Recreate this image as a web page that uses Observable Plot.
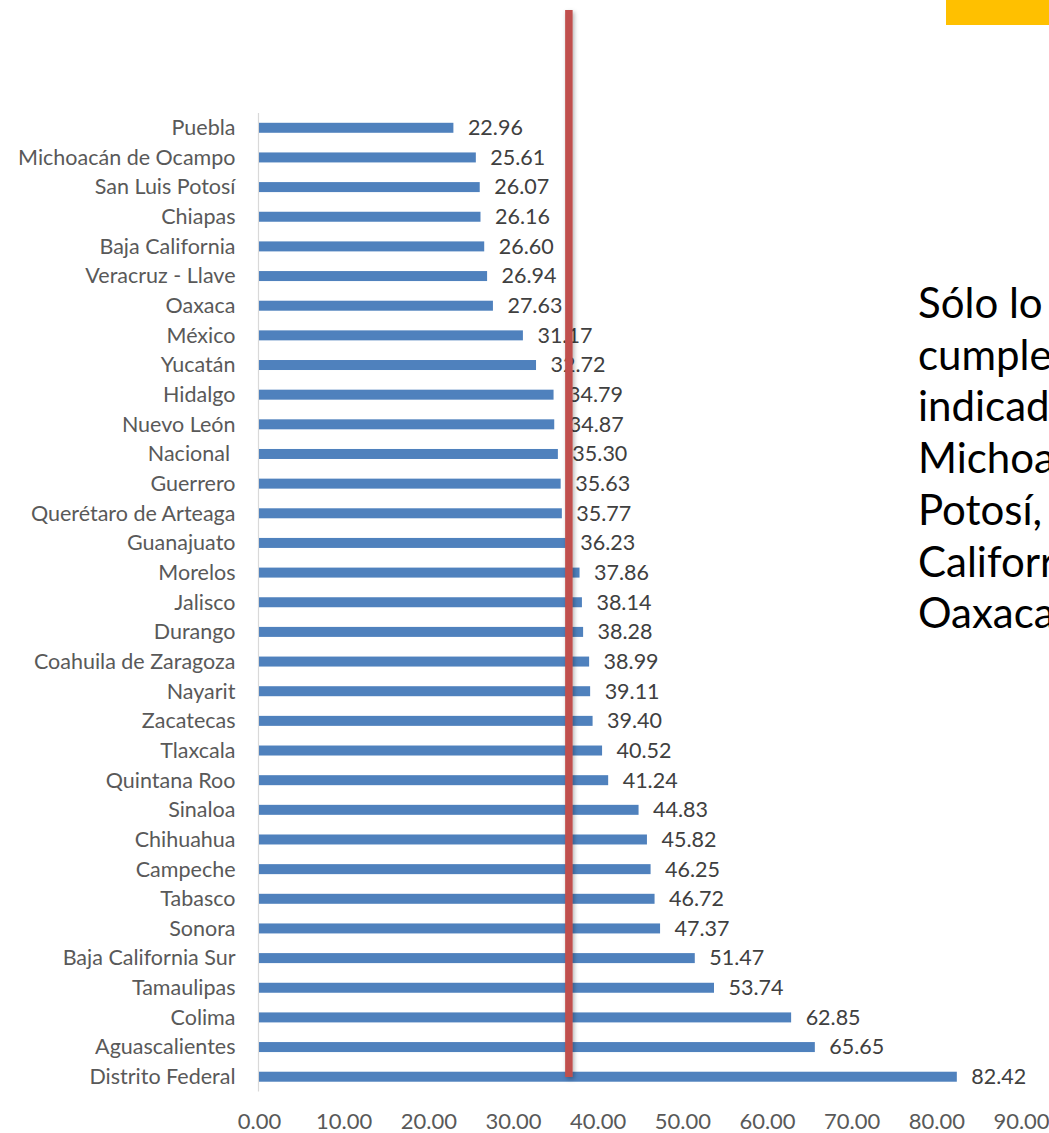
<!DOCTYPE html>
<html>
<head>
<meta charset="utf-8">
<script src="https://cdn.jsdelivr.net/npm/d3@7"></script>
<script src="https://cdn.jsdelivr.net/npm/@observablehq/plot@0.6"></script>
<style>
  html, body { margin: 0; padding: 0; background: #fff; }
  #wrap { position: relative; width: 1049px; height: 1133px; overflow: hidden; background: #fff; }
  #chart { position: absolute; left: 0; top: 0; }
  #nota { position: absolute; left: 918px; top: 277px; font-family: Lato, sans-serif; font-size: 42px; line-height: 51.7px; color: #000; white-space: nowrap; }
  #caja { position: absolute; left: 946px; top: 0; width: 103px; height: 25px; background: #ffc000; }
  #chart svg g[aria-label="x-axis tick label"] text, #chart svg g[aria-label="x-axis"] text { font-size: 22px; }
</style>
</head>
<body>
<div id="wrap">
  <div id="chart"></div>
  <div id="caja"></div>
  <div id="nota"></div>
</div>
<script>
const estados = [
  "Puebla", "Michoacán de Ocampo", "San Luis Potosí", "Chiapas", "Baja California",
  "Veracruz - Llave", "Oaxaca", "México", "Yucatán", "Hidalgo", "Nuevo León",
  "Nacional\u00a0", "Guerrero", "Querétaro de Arteaga", "Guanajuato", "Morelos",
  "Jalisco", "Durango", "Coahuila de Zaragoza", "Nayarit", "Zacatecas", "Tlaxcala",
  "Quintana Roo", "Sinaloa", "Chihuahua", "Campeche", "Tabasco", "Sonora",
  "Baja California Sur", "Tamaulipas", "Colima", "Aguascalientes", "Distrito Federal"
];
const valores = [
  22.96, 25.61, 26.07, 26.16, 26.60,
  26.94, 27.63, 31.17, 32.72, 34.79, 34.87,
  35.30, 35.63, 35.77, 36.23, 37.86,
  38.14, 38.28, 38.99, 39.11, 39.40, 40.52,
  41.24, 44.83, 45.82, 46.25, 46.72, 47.37,
  51.47, 53.74, 62.85, 65.65, 82.42
];
const xTicks = [0, 10, 20, 30, 40, 50, 60, 70, 80, 90];
const umbral = 36.6;
const notaLineas = ["Sólo lo", "cumple", "indicad", "Michoa", "Potosí,", "Califorr", "Oaxaca"];

const data = estados.map((e, i) => ({estado: e, valor: valores[i]}));

const plot = Plot.plot({
  width: 1049,
  height: 1133,
  marginLeft: 259,
  marginRight: 28,
  marginTop: 113,
  marginBottom: 41.5,
  style: {fontFamily: "Lato, sans-serif", fontSize: "21.5px", color: "#595959", background: "transparent", overflow: "visible"},
  x: {domain: [0, 90], ticks: xTicks, tickFormat: d => d.toFixed(2), tickSize: 0, tickPadding: 21, label: null},
  y: {domain: estados, paddingInner: 0.663, paddingOuter: 0.33, round: false, tickSize: 0, tickPadding: 24, label: null},
  marks: [
    Plot.ruleX([0], {stroke: "#d9d9d9", strokeWidth: 1.2, dx: -1}),
    Plot.barX(data, {x: "valor", y: "estado", fill: "#4f81bd"}),
    Plot.text(data, {x: "valor", y: "estado", text: d => d.valor.toFixed(2), textAnchor: "start", dx: 14, fill: "#404040"})
  ]
});

// threshold line drawn with the plot's x scale
const xs = plot.scale("x");
const svg = d3.select(plot);
const defs = svg.append("defs");
const f = defs.append("filter").attr("id", "sombra").attr("filterUnits", "userSpaceOnUse")
  .attr("x", 0).attr("y", 0).attr("width", 1049).attr("height", 1133);
f.append("feDropShadow").attr("dx", 1.5).attr("dy", 2).attr("stdDeviation", 2).attr("flood-color", "#000").attr("flood-opacity", 0.3);
const xu = xs.apply(umbral);
svg.append("rect")
  .attr("x", xu - 3.75).attr("width", 7.5)
  .attr("y", 10).attr("height", 1067)
  .attr("fill", "#c0504d")
  .attr("filter", "url(#sombra)");

document.getElementById("chart").appendChild(plot);

const nota = document.getElementById("nota");
notaLineas.forEach(t => { const d = document.createElement("div"); d.textContent = t; nota.appendChild(d); });
</script>
</body>
</html>
